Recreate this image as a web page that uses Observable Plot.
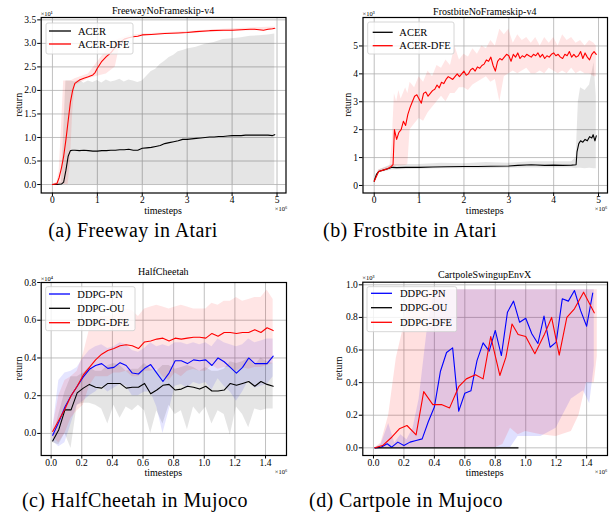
<!DOCTYPE html>
<html><head><meta charset="utf-8">
<script src="https://cdn.jsdelivr.net/npm/d3@7"></script>
<script src="https://cdn.jsdelivr.net/npm/@observablehq/plot@0.6"></script>
<style>
body{margin:0;background:#fff;}
#root{position:relative;width:613px;height:518px;overflow:hidden;font-family:"Liberation Serif",serif;}
.panel{position:absolute;}
.cap{position:absolute;width:300px;text-align:center;font-size:20px;line-height:20px;letter-spacing:0.4px;color:#000;white-space:nowrap;}
</style></head><body><div id="root"></div>
<script>
// ---------- (a) Freeway: x in 1e6 timesteps, y in 1e1 ----------
const freewayACER = [[0,0],[0.1,0],[0.2,0.01],[0.25,0.05],[0.3,0.3],[0.35,0.6],[0.4,0.72],[0.45,0.73],[0.5,0.73],[0.6,0.72],[0.7,0.73],[0.8,0.72],[0.9,0.71],[1.0,0.71],[1.1,0.72],[1.2,0.72],[1.3,0.73],[1.4,0.73],[1.5,0.74],[1.6,0.74],[1.7,0.75],[1.8,0.73],[1.9,0.73],[2.0,0.77],[2.1,0.78],[2.2,0.79],[2.3,0.81],[2.4,0.83],[2.5,0.87],[2.6,0.89],[2.7,0.91],[2.8,0.93],[2.9,0.96],[3.0,0.96],[3.1,0.97],[3.2,0.98],[3.3,0.99],[3.4,1.0],[3.5,1.01],[3.6,1.01],[3.7,1.02],[3.8,1.02],[3.9,1.03],[4.0,1.04],[4.1,1.04],[4.2,1.04],[4.3,1.05],[4.4,1.05],[4.5,1.05],[4.6,1.05],[4.7,1.05],[4.8,1.05],[4.9,1.04],[4.95,1.06]];
const freewayDFE = [[0,0],[0.1,0.02],[0.15,0.15],[0.2,0.35],[0.25,0.6],[0.3,0.95],[0.35,1.35],[0.4,1.75],[0.45,2.0],[0.5,2.15],[0.6,2.22],[0.7,2.26],[0.8,2.29],[0.9,2.33],[0.95,2.38],[1.0,2.47],[1.1,2.62],[1.2,2.72],[1.3,2.8],[1.4,2.92],[1.5,3.02],[1.6,3.09],[1.7,3.12],[1.8,3.14],[1.9,3.15],[2.0,3.18],[2.2,3.19],[2.5,3.21],[2.8,3.22],[3.0,3.23],[3.2,3.25],[3.5,3.27],[3.8,3.28],[4.0,3.28],[4.2,3.29],[4.4,3.3],[4.5,3.3],[4.6,3.29],[4.7,3.28],[4.8,3.3],[4.9,3.31],[4.95,3.32]];
const freewayACERBand = [[0,0,0],[0.2,0,0.05],[0.3,0,2.2],[0.4,0,2.2],[0.5,0,2.18],[0.6,0,2.22],[0.7,0,2.15],[0.8,0,2.2],[0.9,0,2.17],[1.0,0,2.21],[1.1,0,2.16],[1.2,0,2.22],[1.3,0,2.18],[1.4,0,2.2],[1.5,0,2.24],[1.6,0,2.18],[1.7,0,2.22],[1.8,0,2.2],[1.9,0,2.17],[2.0,0,2.2],[2.1,0,2.3],[2.2,0,2.4],[2.3,0,2.45],[2.4,0,2.55],[2.5,0,2.62],[2.6,0,2.7],[2.7,0,2.75],[2.8,0,2.82],[2.9,0,2.85],[3.0,0,2.88],[3.2,0,2.92],[3.4,0,2.98],[3.6,0,3.02],[3.8,0,3.08],[4.0,0,3.1],[4.2,0,3.12],[4.4,0,3.15],[4.6,0,3.16],[4.8,0,3.18],[4.95,0,3.2]];
const freewayDFEBand = [[0,0,0],[0.1,0,0.05],[0.15,0,0.3],[0.2,0,1.2],[0.25,0,2.2],[0.35,0,2.2],[0.4,0.5,2.2],[0.45,1.5,2.22],[0.5,2.1,2.25],[0.8,2.25,2.35],[1.0,2.3,2.6],[1.2,2.35,2.85],[1.4,2.5,3.05],[1.5,2.95,3.1],[1.7,3.1,3.16],[2.0,3.16,3.2],[3.0,3.21,3.25],[4.0,3.26,3.31],[4.5,3.27,3.33],[4.95,3.29,3.35]];

// ---------- (b) Frostbite: x in 1e6, y in 1e3 ----------
const frostACER = [[0,0.15],[0.05,0.4],[0.1,0.5],[0.15,0.53],[0.2,0.55],[0.3,0.6],[0.4,0.65],[0.5,0.64],[0.7,0.65],[1.0,0.65],[1.3,0.66],[1.6,0.67],[2.0,0.68],[2.3,0.68],[2.6,0.69],[3.0,0.7],[3.2,0.72],[3.5,0.74],[3.8,0.72],[4.0,0.73],[4.2,0.72],[4.4,0.73],[4.5,0.74],[4.52,1.2],[4.56,1.5],[4.6,1.6],[4.65,1.55],[4.7,1.65],[4.75,1.6],[4.8,1.75],[4.85,1.7],[4.88,1.82],[4.92,1.6],[4.95,1.78]];
const frostDFE = [[0,0.15],[0.1,0.5],[0.2,0.55],[0.3,0.6],[0.38,0.68],[0.42,0.75],[0.45,2.0],[0.5,1.65],[0.55,1.9],[0.6,2.0],[0.65,2.3],[0.7,2.15],[0.75,2.55],[0.8,2.8],[0.85,3.0],[0.9,3.2],[0.95,3.25],[1.0,3.1],[1.05,2.95],[1.1,3.3],[1.15,3.35],[1.2,3.2],[1.25,3.3],[1.3,3.4],[1.35,3.45],[1.4,3.6],[1.45,3.5],[1.5,3.7],[1.55,3.65],[1.6,3.8],[1.65,3.9],[1.7,3.85],[1.75,3.8],[1.8,3.9],[1.85,4.0],[1.9,3.9],[1.95,4.0],[2.0,4.1],[2.05,3.95],[2.1,4.0],[2.15,4.15],[2.2,4.2],[2.25,4.1],[2.3,4.25],[2.35,4.2],[2.4,4.3],[2.45,4.35],[2.5,4.5],[2.55,4.45],[2.6,4.6],[2.65,4.3],[2.7,4.1],[2.75,4.45],[2.8,4.55],[2.85,4.5],[2.9,4.6],[2.95,4.7],[3.0,4.65],[3.05,4.45],[3.1,4.7],[3.15,4.6],[3.2,4.75],[3.25,4.55],[3.3,4.65],[3.35,4.6],[3.4,4.7],[3.45,4.65],[3.5,4.6],[3.55,4.7],[3.6,4.65],[3.65,4.75],[3.7,4.6],[3.75,4.7],[3.8,4.55],[3.85,4.65],[3.9,4.6],[3.95,4.7],[4.0,4.75],[4.05,4.65],[4.1,4.7],[4.15,4.6],[4.2,4.55],[4.25,4.7],[4.3,4.65],[4.35,4.8],[4.4,4.6],[4.45,4.7],[4.5,4.6],[4.55,4.65],[4.6,4.8],[4.65,4.55],[4.7,4.75],[4.75,4.6],[4.8,4.5],[4.85,4.7],[4.9,4.8],[4.95,4.7]];
const frostACERBand = [[0,0.1,0.2],[0.1,0.45,0.55],[0.4,0.55,0.75],[1.0,0.58,0.75],[1.5,0.6,0.8],[2.0,0.6,0.78],[2.5,0.6,0.82],[3.0,0.62,0.8],[3.5,0.63,0.85],[4.0,0.63,0.85],[4.4,0.63,0.85],[4.5,0.6,1.0],[4.55,0.62,3.0],[4.6,0.62,3.5],[4.7,0.6,3.4],[4.8,0.62,3.6],[4.9,0.6,4.4],[4.95,0.6,3.2]];
const frostDFEBand = [[0,0.1,0.2],[0.1,0.45,0.55],[0.35,0.6,0.7],[0.4,0.65,1.5],[0.45,0.65,3.3],[0.5,0.7,3.0],[0.55,0.7,3.4],[0.6,0.7,3.1],[0.7,0.72,3.5],[0.75,0.75,3.3],[0.8,2.0,3.7],[0.9,2.2,3.5],[1.0,2.4,3.9],[1.1,2.3,3.7],[1.2,2.6,4.1],[1.3,2.8,3.9],[1.4,3.0,4.3],[1.5,3.2,4.2],[1.6,3.0,4.5],[1.7,3.3,4.3],[1.8,3.3,5.0],[1.9,3.5,4.5],[2.0,3.5,4.7],[2.1,3.4,4.6],[2.2,3.6,4.9],[2.3,3.7,4.7],[2.4,3.8,5.0],[2.5,3.9,4.9],[2.6,3.7,5.2],[2.7,3.8,5.0],[2.8,3.0,5.6],[2.9,3.9,5.4],[3.0,4.0,5.6],[3.1,4.1,5.1],[3.2,4.0,5.4],[3.3,4.1,5.2],[3.4,4.2,5.3],[3.5,4.0,5.1],[3.6,4.0,5.3],[3.7,4.1,5.0],[3.8,4.0,5.3],[3.9,4.2,5.1],[4.0,4.1,5.3],[4.1,4.0,5.0],[4.2,4.1,5.4],[4.3,4.0,5.2],[4.4,4.2,5.3],[4.5,4.0,5.1],[4.6,4.1,5.2],[4.7,4.0,5.0],[4.8,4.0,5.2],[4.9,3.9,5.1],[4.95,3.9,5.0]];

// ---------- (c) HalfCheetah: x in 1e6, y in 1e4 ----------
const cheetahPN = [[0.01,-0.01],[0.05,0.06],[0.09,0.14],[0.13,0.2],[0.17,0.25],[0.21,0.3],[0.25,0.34],[0.29,0.36],[0.33,0.37],[0.37,0.345],[0.41,0.35],[0.45,0.375],[0.49,0.36],[0.53,0.32],[0.57,0.315],[0.61,0.345],[0.65,0.365],[0.69,0.32],[0.73,0.275],[0.77,0.32],[0.81,0.385],[0.85,0.385],[0.89,0.37],[0.93,0.39],[0.97,0.385],[1.01,0.39],[1.05,0.36],[1.09,0.4],[1.13,0.38],[1.17,0.35],[1.21,0.32],[1.25,0.35],[1.29,0.4],[1.33,0.37],[1.37,0.37],[1.41,0.37],[1.45,0.41]];
const cheetahOU = [[0.01,-0.04],[0.05,0.02],[0.09,0.125],[0.13,0.125],[0.17,0.215],[0.21,0.24],[0.25,0.26],[0.29,0.245],[0.33,0.24],[0.37,0.265],[0.41,0.265],[0.45,0.265],[0.49,0.24],[0.53,0.245],[0.57,0.245],[0.61,0.265],[0.65,0.21],[0.69,0.23],[0.73,0.255],[0.77,0.26],[0.81,0.23],[0.85,0.235],[0.89,0.25],[0.93,0.245],[0.97,0.235],[1.01,0.25],[1.05,0.225],[1.09,0.225],[1.13,0.23],[1.17,0.265],[1.21,0.255],[1.25,0.265],[1.29,0.275],[1.33,0.25],[1.37,0.275],[1.41,0.26],[1.45,0.25]];
const cheetahDFE = [[0.01,0.01],[0.05,0.07],[0.09,0.13],[0.13,0.2],[0.17,0.25],[0.21,0.31],[0.25,0.35],[0.29,0.39],[0.33,0.42],[0.37,0.44],[0.41,0.45],[0.45,0.465],[0.49,0.47],[0.53,0.465],[0.57,0.45],[0.61,0.485],[0.65,0.49],[0.69,0.5],[0.73,0.505],[0.77,0.49],[0.81,0.505],[0.85,0.5],[0.89,0.505],[0.93,0.51],[0.97,0.51],[1.01,0.505],[1.05,0.53],[1.09,0.515],[1.13,0.535],[1.17,0.535],[1.21,0.53],[1.25,0.535],[1.29,0.535],[1.33,0.55],[1.37,0.535],[1.41,0.56],[1.45,0.545]];
const cheetahPNBand = [[0.01,-0.04,0.02],[0.05,-0.07,0.28],[0.09,-0.05,0.32],[0.13,0.05,0.33],[0.17,0.15,0.35],[0.21,0.17,0.4],[0.25,0.2,0.44],[0.29,0.22,0.46],[0.33,0.25,0.47],[0.37,0.22,0.45],[0.41,0.24,0.46],[0.45,0.26,0.48],[0.49,0.25,0.47],[0.53,0.2,0.44],[0.57,0.2,0.43],[0.61,0.22,0.45],[0.65,0.22,0.48],[0.69,0.14,0.46],[0.73,0.0,0.47],[0.77,0.12,0.46],[0.81,0.25,0.48],[0.85,0.26,0.48],[0.89,0.24,0.47],[0.93,0.27,0.48],[0.97,0.26,0.47],[1.01,0.27,0.48],[1.05,0.23,0.46],[1.09,0.29,0.5],[1.13,0.25,0.48],[1.17,0.22,0.47],[1.21,0.17,0.46],[1.25,0.22,0.47],[1.29,0.28,0.5],[1.33,0.24,0.48],[1.37,0.25,0.49],[1.41,0.26,0.5],[1.45,0.3,0.5]];
const cheetahOUBand = [[0.01,-0.05,-0.03],[0.05,-0.06,0.1],[0.09,0.0,0.22],[0.13,-0.08,0.3],[0.17,0.15,0.3],[0.21,0.16,0.32],[0.25,0.16,0.35],[0.29,0.15,0.33],[0.33,0.13,0.33],[0.37,0.05,0.36],[0.41,0.15,0.37],[0.45,0.08,0.36],[0.49,0.14,0.33],[0.53,0.12,0.34],[0.57,0.15,0.34],[0.61,0.12,0.37],[0.65,0.0,0.34],[0.69,0.12,0.33],[0.73,0.05,0.36],[0.77,0.15,0.36],[0.81,0.1,0.34],[0.85,0.12,0.35],[0.89,0.02,0.36],[0.93,0.14,0.35],[0.97,0.1,0.33],[1.01,0.14,0.35],[1.05,0.05,0.33],[1.09,0.12,0.33],[1.13,0.1,0.34],[1.17,-0.01,0.38],[1.21,0.14,0.37],[1.25,0.1,0.38],[1.29,0.03,0.4],[1.33,0.13,0.36],[1.37,0.12,0.4],[1.41,0.13,0.38],[1.45,0.13,0.37]];
const cheetahDFEBand = [[0.01,-0.02,0.03],[0.05,-0.05,0.2],[0.09,0.0,0.28],[0.13,0.08,0.3],[0.17,0.12,0.33],[0.21,0.15,0.42],[0.25,0.25,0.55],[0.29,0.3,0.6],[0.33,0.3,0.62],[0.37,0.3,0.62],[0.41,0.32,0.63],[0.45,0.32,0.64],[0.49,0.33,0.66],[0.53,0.3,0.65],[0.57,0.3,0.62],[0.61,0.33,0.66],[0.65,0.33,0.67],[0.69,0.34,0.68],[0.73,0.3,0.67],[0.77,0.28,0.66],[0.81,0.32,0.67],[0.85,0.3,0.68],[0.89,0.33,0.67],[0.93,0.34,0.66],[0.97,0.33,0.66],[1.01,0.33,0.66],[1.05,0.36,0.69],[1.09,0.34,0.68],[1.13,0.35,0.7],[1.17,0.35,0.7],[1.21,0.33,0.72],[1.25,0.35,0.7],[1.29,0.34,0.71],[1.33,0.35,0.72],[1.37,0.35,0.72],[1.41,0.36,0.76],[1.45,0.37,0.71]];

// ---------- (d) Cartpole: x in 1e6, y in 1e3 ----------
const cartPN = [[0.01,0],[0.05,0.004],[0.09,0.025],[0.12,0.004],[0.16,0.035],[0.2,0.014],[0.24,0.035],[0.28,0.045],[0.32,0.055],[0.36,0.16],[0.4,0.25],[0.44,0.47],[0.48,0.585],[0.52,0.613],[0.56,0.225],[0.6,0.335],[0.64,0.35],[0.68,0.535],[0.72,0.644],[0.76,0.593],[0.8,0.72],[0.84,0.566],[0.88,0.832],[0.92,0.9],[0.96,0.77],[1.0,0.795],[1.04,0.7],[1.08,0.64],[1.12,0.808],[1.16,0.617],[1.2,0.648],[1.24,0.914],[1.28,0.9],[1.32,0.965],[1.36,0.843],[1.4,0.746],[1.44,0.949]];
const cartOU = [[0.01,0],[0.3,0],[0.6,0],[0.95,0]];
const cartDFE = [[0.01,0],[0.06,0.014],[0.12,0.065],[0.17,0.117],[0.22,0.137],[0.28,0.08],[0.33,0.345],[0.39,0.265],[0.45,0.265],[0.5,0.245],[0.56,0.375],[0.61,0.423],[0.67,0.448],[0.72,0.423],[0.77,0.683],[0.83,0.444],[0.87,0.556],[0.91,0.76],[0.95,0.695],[1.0,0.683],[1.06,0.577],[1.12,0.69],[1.17,0.8],[1.22,0.569],[1.27,0.8],[1.32,0.853],[1.38,0.955],[1.45,0.828]];
const cartPNBand = [[0.01,0,0],[0.05,0,0.02],[0.1,0,0.15],[0.14,0,0.03],[0.18,0,0.08],[0.22,0,0.05],[0.26,0,0.12],[0.3,0,0.3],[0.35,0,0.7],[0.4,0,0.97],[0.9,0,0.97],[0.95,0.07,0.97],[1.05,0.07,0.97],[1.1,0.07,0.97],[1.2,0.12,0.97],[1.3,0.3,0.97],[1.38,0.35,0.97],[1.42,0.27,0.97],[1.45,0.5,0.97]];
const cartOUBand = [[0.01,0,0],[0.95,0,0.004]];
const cartDFEBand = [[0.01,0,0],[0.05,0,0.03],[0.1,0,0.2],[0.15,0,0.55],[0.2,0,0.75],[0.25,0,0.97],[0.8,0,0.97],[0.85,0.02,0.97],[0.9,0.12,0.97],[0.95,0.08,0.97],[1.0,0.1,0.97],[1.1,0.08,0.97],[1.2,0.07,0.97],[1.3,0.1,0.97],[1.35,0.2,0.97],[1.4,0.4,0.97],[1.45,0.4,0.97],[1.47,0.56,0.97]];

// ---------- ticks, titles, captions ----------
const ticksT5 = [0,1,2,3,4,5];
const ticksT14 = [0,0.2,0.4,0.6,0.8,1.0,1.2,1.4];
const ticksFreewayY = [0,0.5,1.0,1.5,2.0,2.5,3.0,3.5];
const ticksFrostY = [0,1,2,3,4,5];
const ticksCheetahY = [0,0.2,0.4,0.6,0.8];
const ticksCartY = [0,0.2,0.4,0.6,0.8,1.0];
const titles = ["FreewayNoFrameskip-v4","FrostbiteNoFrameskip-v4","HalfCheetah","CartpoleSwingupEnvX"];
const captions = ["(a) Freeway in Atari","(b) Frostbite in Atari","(c) HalfCheetah in Mujoco","(d) Cartpole in Mujoco"];
const yExps = ["×10¹","×10³","×10⁴","×10³"];

const RED="#ff0000", BLUE="#0000ff", BLACK="#000000";
const xy = a => a.map(([x,y]) => ({x,y}));
const band = a => a.map(([x,lo,hi]) => ({x,lo,hi}));
const f1 = d3.format(".1f");

const panels = [
  {left:0, top:0, width:306, height:218, ml:40.7, mr:20.5, mt:17, mb:25.5,
   xd:[-0.25,5.2], yd:[-0.18,3.55], xt:ticksT5, yt:ticksFreewayY, xf:d=>String(d), yf:f1,
   title:titles[0], titleY:14, xlabY:213.5, ylabX:21.6, yExp:yExps[0], yExpY:15.5, xExpX:281, xExpY:211,
   bands:[{d:freewayACERBand,c:BLACK,o:0.1},{d:freewayDFEBand,c:RED,o:0.1}],
   lines:[{d:freewayACER,c:BLACK,l:"ACER"},{d:freewayDFE,c:RED,l:"ACER-DFE"}],
   leg:{x:46,y:23,w:87,h:31,l0:49,l1:71,tx:78,rows:[31,44]}},
  {left:306, top:0, width:307, height:218, ml:56.5, mr:6, mt:17, mb:25.5,
   xd:[-0.25,5.2], yd:[-0.27,6.02], xt:ticksT5, yt:ticksFrostY, xf:d=>String(d), yf:d=>String(d),
   title:titles[1], titleY:15, xlabY:213.5, ylabX:45, yExp:yExps[1], yExpY:15.5, xExpX:295, xExpY:211,
   bands:[{d:frostACERBand,c:BLACK,o:0.1},{d:frostDFEBand,c:RED,o:0.1}],
   lines:[{d:frostACER,c:BLACK,l:"ACER"},{d:frostDFE,c:RED,l:"ACER-DFE"}],
   leg:{x:61.7,y:22,w:86.3,h:32,l0:66.7,l1:86.7,tx:93.3,rows:[32.3,45.7]}},
  {left:0, top:260, width:306, height:218, ml:40.7, mr:20, mt:22, mb:23,
   xd:[-0.065,1.537], yd:[-0.117,0.8], xt:ticksT14, yt:ticksCheetahY, xf:f1, yf:f1,
   title:titles[2], titleY:15, xlabY:216, ylabX:21.6, yExp:yExps[2], yExpY:20.5, xExpX:281, xExpY:214,
   bands:[{d:cheetahPNBand,c:BLUE,o:0.1},{d:cheetahOUBand,c:BLACK,o:0.1},{d:cheetahDFEBand,c:RED,o:0.1}],
   lines:[{d:cheetahPN,c:BLUE,l:"DDPG-PN"},{d:cheetahOU,c:BLACK,l:"DDPG-OU"},{d:cheetahDFE,c:RED,l:"DDPG-DFE"}],
   leg:{x:45.7,y:26.7,w:89.3,h:44,l0:49,l1:70,tx:77.3,rows:[34,48.3,62.7]}},
  {left:306, top:260, width:307, height:218, ml:56.3, mr:6, mt:21.7, mb:23,
   xd:[-0.07,1.537], yd:[-0.047,1.016], xt:ticksT14, yt:ticksCartY, xf:f1, yf:f1,
   title:titles[3], titleY:18, xlabY:216, ylabX:36, yExp:yExps[3], yExpY:20, xExpX:295, xExpY:214,
   bands:[{d:cartPNBand,c:BLUE,o:0.12},{d:cartOUBand,c:BLACK,o:0.1},{d:cartDFEBand,c:RED,o:0.12}],
   lines:[{d:cartPN,c:BLUE,l:"DDPG-PN"},{d:cartOU,c:BLACK,l:"DDPG-OU"},{d:cartDFE,c:RED,l:"DDPG-DFE"}],
   leg:{x:61,y:26.7,w:89.7,h:45,l0:65,l1:86,tx:94,rows:[33.3,47.7,62.3]}}
];

const root = document.getElementById("root");
const FONT = "Liberation Serif, serif";

panels.forEach(c => {
  const svg = Plot.plot({
    width:c.width, height:c.height,
    marginLeft:c.ml, marginRight:c.mr, marginTop:c.mt, marginBottom:c.mb,
    x:{domain:c.xd, label:null}, y:{domain:c.yd, label:null},
    style:{fontFamily:FONT, fontSize:"9.5px", color:"#000", background:"transparent", overflow:"visible"},
    marks:[
      Plot.gridX(c.xt, {stroke:"#b0b0b0", strokeOpacity:1, strokeWidth:0.8}),
      Plot.gridY(c.yt, {stroke:"#b0b0b0", strokeOpacity:1, strokeWidth:0.8}),
      ...c.bands.map(b => Plot.areaY(band(b.d), {x:"x", y1:"lo", y2:"hi", fill:b.c, fillOpacity:b.o, clip:true})),
      ...c.lines.map(l => Plot.line(xy(l.d), {x:"x", y:"y", stroke:l.c, strokeWidth:1.1, clip:true})),
      Plot.axisX(c.xt, {tickSize:3.5, tickPadding:0, tickFormat:c.xf, label:null, fontSize:9.5}),
      Plot.axisY(c.yt, {tickSize:3.5, tickPadding:1.5, tickFormat:c.yf, label:null, fontSize:9.5}),
      Plot.frame({stroke:"#000", strokeWidth:1.2})
    ]
  });
  const s = d3.select(svg);
  const fx0 = c.ml, fx1 = c.width - c.mr, fy0 = c.mt, fy1 = c.height - c.mb;
  const g = s.append("g").attr("font-family", FONT).attr("fill", "#000").attr("text-anchor","start");
  g.append("text").attr("x",(fx0+fx1)/2).attr("y",c.titleY).attr("text-anchor","middle").attr("font-size",10).text(c.title);
  g.append("text").attr("x",(fx0+fx1)/2).attr("y",c.xlabY).attr("text-anchor","middle").attr("font-size",10).text("timesteps");
  g.append("text").attr("transform",`translate(${c.ylabX},${(fy0+fy1)/2}) rotate(-90)`).attr("text-anchor","middle").attr("font-size",10).text("return");
  g.append("text").attr("x",fx0).attr("y",c.yExpY).attr("text-anchor","start").attr("font-size",6.5).text(c.yExp);
  g.append("text").attr("x",c.xExpX).attr("y",c.xExpY).attr("text-anchor","middle").attr("font-size",6.5).text("×10⁶");
  const L = c.leg;
  const lg = s.append("g").attr("font-family", FONT).attr("text-anchor","start");
  lg.append("rect").attr("x",L.x).attr("y",L.y).attr("width",L.w).attr("height",L.h).attr("rx",2)
    .attr("fill","#fff").attr("fill-opacity",0.8).attr("stroke","#cccccc").attr("stroke-width",0.8);
  c.lines.forEach((l,i) => {
    lg.append("line").attr("x1",L.l0).attr("x2",L.l1).attr("y1",L.rows[i]).attr("y2",L.rows[i]).attr("stroke",l.c).attr("stroke-width",1.3);
    lg.append("text").attr("x",L.tx).attr("y",L.rows[i]).attr("dy","0.35em").attr("text-anchor","start").attr("font-size",10.5).attr("fill","#000").text(l.l);
  });
  const div = document.createElement("div");
  div.className = "panel";
  div.style.left = c.left + "px"; div.style.top = c.top + "px";
  div.appendChild(svg);
  root.appendChild(div);
});

const capPos = [[133,220],[410,220],[135,490],[406,490]];
captions.forEach((t,i) => {
  const d = document.createElement("div");
  d.className = "cap";
  d.style.left = (capPos[i][0]-150) + "px";
  d.style.top = capPos[i][1] + "px";
  d.textContent = t;
  root.appendChild(d);
});
</script></body></html>
